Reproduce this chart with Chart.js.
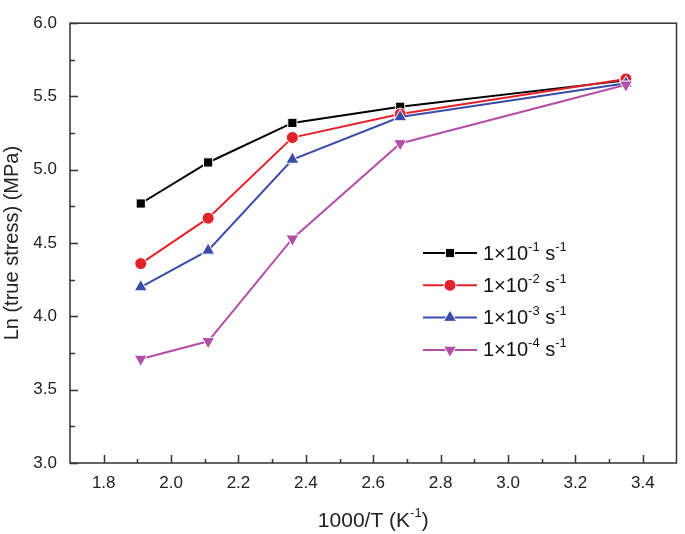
<!DOCTYPE html>
<html><head><meta charset="utf-8">
<script src="https://cdn.jsdelivr.net/npm/chart.js@4.4.1/dist/chart.umd.min.js"></script>
<style>html,body{margin:0;padding:0;background:#fff;} #wrap{width:685px;height:534px;position:relative;}</style>
</head><body><div id="wrap"><canvas id="c" width="685" height="534"></canvas></div>
<script>
// ---- data ----
const xValues = [1.91, 2.11, 2.36, 2.68, 3.35];
const rate1 = [4.77, 5.05, 5.32, 5.43, 5.61];
const rate2 = [4.36, 4.67, 5.22, 5.38, 5.62];
const rate3 = [4.20, 4.45, 5.07, 5.36, 5.59];
const rate4 = [3.71, 3.83, 4.53, 5.18, 5.58];
const seriesLabels = ['1×10⁻¹ s⁻¹', '1×10⁻² s⁻¹', '1×10⁻³ s⁻¹', '1×10⁻⁴ s⁻¹'];
const legendParts = [
  [['1×10',0],['-1',1],[' s',0],['-1',1]],
  [['1×10',0],['-2',1],[' s',0],['-1',1]],
  [['1×10',0],['-3',1],[' s',0],['-1',1]],
  [['1×10',0],['-4',1],[' s',0],['-1',1]]
];
const xTicks = [1.8, 2.0, 2.2, 2.4, 2.6, 2.8, 3.0, 3.2, 3.4];
const yTicks = [3.0, 3.5, 4.0, 4.5, 5.0, 5.5, 6.0];
const xTitleParts = [['1000/T (K',0],['-1',1],[')',0]];
const yTitle = 'Ln (true stress) (MPa)';

const FONT = '"Liberation Sans", Arial, sans-serif';
const colors = ['#000000', '#e3222b', '#3a4ca8', '#b44fa9'];
const styles = ['rect', 'circle', 'triangle', 'triangle'];
const rotations = [0, 0, 0, 180];
const radii = [6.5, 6, 7.5, 7.5];
const seriesData = [rate1, rate2, rate3, rate4];

const datasets = seriesData.map((arr, i) => ({
  label: seriesLabels[i],
  data: arr.map((v, j) => ({x: xValues[j], y: v})),
  borderColor: colors[i],
  backgroundColor: colors[i],
  pointBackgroundColor: colors[i],
  pointBorderColor: '#ffffff',
  pointBorderWidth: 1,
  pointStyle: styles[i],
  pointRotation: rotations[i],
  pointRadius: radii[i],
  borderWidth: 2,
  tension: 0,
  order: 3 - i
}));

function drawParts(ctx, parts, x, y, size, supSize, align) {
  ctx.textBaseline = 'middle';
  ctx.textAlign = 'left';
  let total = 0;
  parts.forEach(([t, sup]) => { ctx.font = (sup ? supSize : size) + 'px ' + FONT; total += ctx.measureText(t).width; });
  let cx = align === 'center' ? x - total / 2 : x;
  parts.forEach(([t, sup]) => {
    ctx.font = (sup ? supSize : size) + 'px ' + FONT;
    ctx.fillText(t, cx, sup ? y - size * 0.3 : y + 1);
    cx += ctx.measureText(t).width;
  });
}

const framePlugin = {
  id: 'frame',
  beforeDatasetsDraw(chart) {
    const {ctx, chartArea: a, scales} = chart;
    ctx.save();
    ctx.strokeStyle = '#333';
    ctx.lineWidth = 1.5;
    ctx.strokeRect(a.left, a.top, a.right - a.left, a.bottom - a.top);
    ctx.beginPath();
    const xs = scales.x, ys = scales.y;
    xTicks.forEach((v, i) => {
      const px = Math.round(xs.getPixelForValue(v)) + 0.5;
      ctx.moveTo(px, a.bottom); ctx.lineTo(px, a.bottom - 8);
      if (i < xTicks.length - 1) {
        const pm = Math.round(xs.getPixelForValue((v + xTicks[i + 1]) / 2)) + 0.5;
        ctx.moveTo(pm, a.bottom); ctx.lineTo(pm, a.bottom - 4);
      }
    });
    yTicks.forEach((v, i) => {
      const py = Math.round(ys.getPixelForValue(v)) + 0.5;
      ctx.moveTo(a.left, py); ctx.lineTo(a.left + 8, py);
      if (i < yTicks.length - 1) {
        const pm = Math.round(ys.getPixelForValue((v + yTicks[i + 1]) / 2)) + 0.5;
        ctx.moveTo(a.left, pm); ctx.lineTo(a.left + 5, pm);
      }
    });
    ctx.stroke();
    ctx.restore();
  },
  afterDraw(chart) {
    const {ctx, chartArea: a} = chart;
    ctx.save();
    ctx.fillStyle = '#222';
    drawParts(ctx, xTitleParts, (a.left + a.right) / 2, 520, 21, 13, 'center');
    ctx.restore();
  }
};

const legendPlugin = {
  id: 'customLegend',
  afterDraw(chart) {
    const ctx = chart.ctx;
    const x1 = 423, x2 = 477, xm = 450, tx = 483, top = 253, gap = 32.3;
    chart.data.datasets.forEach((ds, i) => {
      const y = top + i * gap;
      ctx.save();
      ctx.strokeStyle = ds.borderColor;
      ctx.lineWidth = 2;
      ctx.beginPath(); ctx.moveTo(x1, y); ctx.lineTo(x2, y); ctx.stroke();
      ctx.fillStyle = ds.pointBackgroundColor;
      ctx.strokeStyle = '#ffffff';
      ctx.lineWidth = 1;
      Chart.helpers.drawPoint(ctx, {pointStyle: ds.pointStyle, rotation: ds.pointRotation, radius: ds.pointRadius, borderWidth: 1}, xm, y);
      ctx.fillStyle = '#111';
      drawParts(ctx, legendParts[i], tx, y, 20, 13, 'left');
      ctx.restore();
    });
  }
};

new Chart(document.getElementById('c'), {
  type: 'line',
  data: {datasets},
  options: {
    responsive: false,
    devicePixelRatio: 1,
    animation: false,
    layout: {padding: {top: 7, right: 2, left: 0, bottom: 0}},
    plugins: {legend: {display: false}, tooltip: {enabled: false}},
    scales: {
      x: {
        type: 'linear', min: 1.7, max: 3.5,
        afterBuildTicks: s => { s.ticks = xTicks.map(v => ({value: v})); },
        afterFit: s => { s.height = 71; },
        ticks: {callback: v => Number(v).toFixed(1), font: {family: FONT, size: 17}, color: '#222', padding: 10, maxRotation: 0, autoSkip: false},
        grid: {display: false, drawTicks: false},
        border: {display: false},
        title: {display: false}
      },
      y: {
        type: 'linear', min: 3.0, max: 6.0,
        afterBuildTicks: s => { s.ticks = yTicks.map(v => ({value: v})); },
        afterFit: s => { s.width = 70; },
        ticks: {callback: v => Number(v).toFixed(1), font: {family: FONT, size: 17}, color: '#222', padding: 13, autoSkip: false},
        grid: {display: false, drawTicks: false},
        border: {display: false},
        title: {display: true, text: yTitle, font: {family: FONT, size: 20}, color: '#222', padding: {top: 0, bottom: 0}}
      }
    }
  },
  plugins: [framePlugin, legendPlugin]
});
</script></body></html>
